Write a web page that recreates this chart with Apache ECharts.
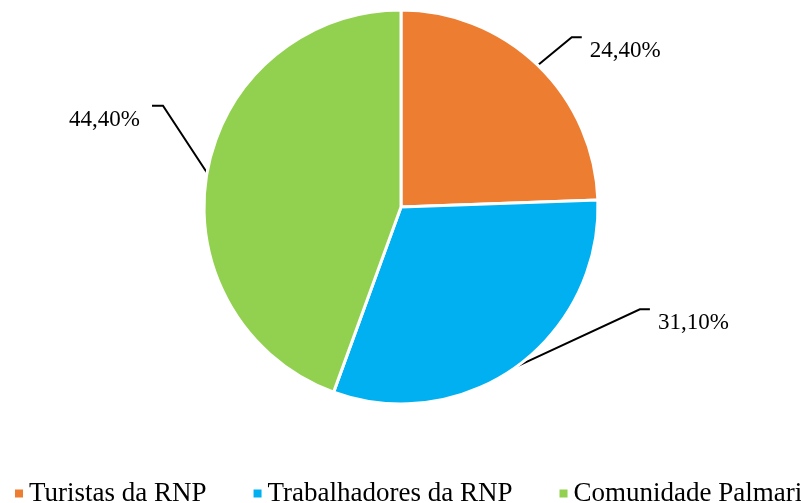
<!DOCTYPE html>
<html>
<head>
<meta charset="utf-8">
<script src="https://cdn.jsdelivr.net/npm/echarts@6/dist/echarts.min.js"></script>
<style>
html,body{margin:0;padding:0;background:#fff;}
#chart{width:801px;height:503px;}
</style>
</head>
<body>
<div id="chart"></div>
<script>
// Data
const categories = ['Turistas da RNP', 'Trabalhadores da RNP', 'Comunidade Palmari'];
const values = [24.4, 31.1, 44.4];
const colors = ['#ED7D31', '#00B0F0', '#92D050'];
// Leader-line elbow offsets relative to slice anchor (styling)
const elbowOffsets = [[34, -28], [123, -57], [-44, -67]];

const chart = echarts.init(document.getElementById('chart'), null, {renderer: 'canvas'});
const FONT = '"Liberation Serif", "Times New Roman", serif';

chart.setOption({
  animation: false,
  color: colors,
  legend: {
    data: categories,
    left: 13,
    top: 480,
    width: 900,
    padding: 0,
    icon: 'rect',
    itemWidth: 10,
    itemHeight: 10,
    itemGap: 45,
    textStyle: {fontFamily: FONT, fontSize: 27, color: '#000', padding: [0, 0, 0, 0]}
  },
  series: [{
    type: 'pie',
    center: [401, 207],
    radius: 197,
    startAngle: 90,
    clockwise: true,
    avoidLabelOverlap: false,
    itemStyle: {borderColor: '#fff', borderWidth: 3},
    label: {
      show: true,
      position: 'outside',
      fontFamily: FONT,
      fontSize: 23,
      color: '#000',
      formatter: p => p.value.toFixed(2).replace('.', ',') + '%'
    },
    labelLine: {show: true, length: 30, length2: 10, lineStyle: {color: '#000', width: 2}},
    emphasis: {disabled: true},
    labelLayout: function (p) {
      const a = p.labelLinePoints ? p.labelLinePoints[0] : null;
      if (!a) return {};
      const o = elbowOffsets[p.dataIndex];
      const right = o[0] > 0;
      const elbow = [a[0] + o[0], a[1] + o[1]];
      const end = [elbow[0] + (right ? 10 : -11), elbow[1]];
      return {
        x: end[0] + (right ? 8 : -12),
        y: elbow[1] + 14,
        align: right ? 'left' : 'right',
        verticalAlign: 'middle',
        labelLinePoints: [a, elbow, end]
      };
    },
    data: categories.map((c, i) => ({name: c, value: values[i]}))
  }]
});
</script>
</body>
</html>
